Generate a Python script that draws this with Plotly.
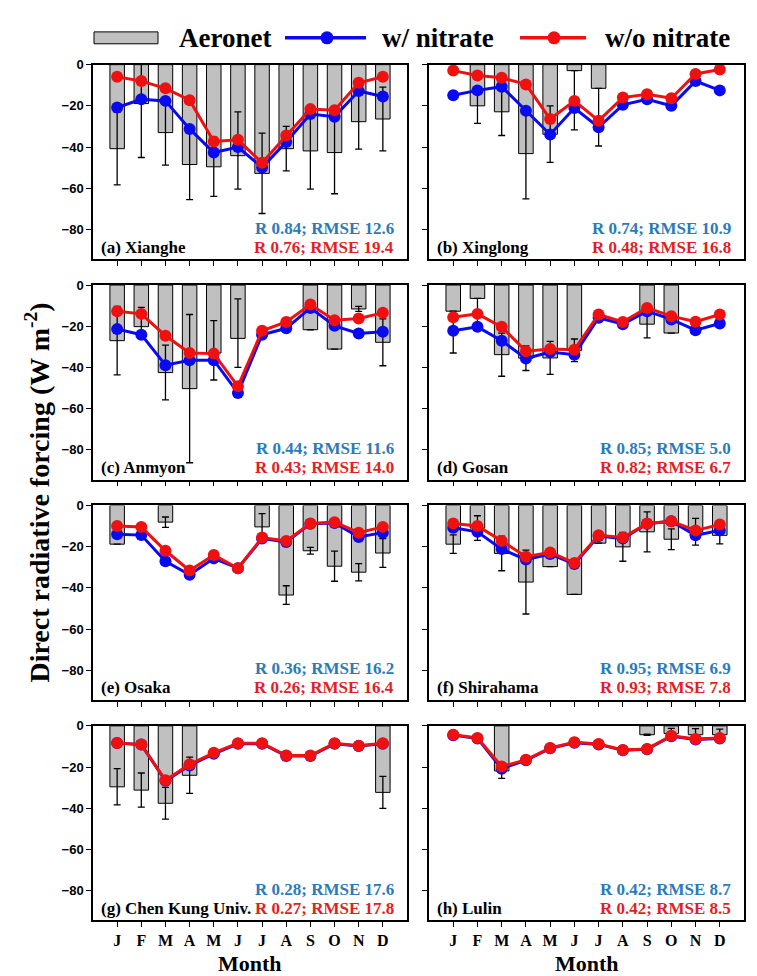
import plotly.graph_objects as go

# ---------------- data ----------------
months = ["J", "F", "M", "A", "M", "J", "J", "A", "S", "O", "N", "D"]
month_num = list(range(1, 13))
y_ticks = [0, -20, -40, -60, -80]

site_labels = ["(a) Xianghe", "(b) Xinglong", "(c) Anmyon", "(d) Gosan",
               "(e) Osaka", "(f) Shirahama", "(g) Chen Kung Univ.", "(h) Lulin"]
stats_with = ["R 0.84; RMSE 12.6", "R 0.74; RMSE 10.9", "R 0.44; RMSE 11.6", "R 0.85; RMSE 5.0",
              "R 0.36; RMSE 16.2", "R 0.95; RMSE 6.9", "R 0.28; RMSE 17.6", "R 0.42; RMSE 8.7"]
stats_without = ["R 0.76; RMSE 19.4", "R 0.48; RMSE 16.8", "R 0.43; RMSE 14.0", "R 0.82; RMSE 6.7",
                 "R 0.26; RMSE 16.4", "R 0.93; RMSE 7.8", "R 0.27; RMSE 17.8", "R 0.42; RMSE 8.5"]

# (a) Xianghe
aer_a = [-40.8, -18.9, -33.0, -48.5, -49.6, -44.2, -52.8, -40.8, -41.9, -42.7, -27.7, -26.4]
up_a = [17.6, 26.2, 15.8, 17.1, 14.4, 21.3, 19.5, 10.8, 18.6, 20.0, 13.3, 15.5]
dn_a = [17.6, 26.2, 15.8, 17.1, 14.4, 16.3, 19.5, 10.8, 18.6, 20.0, 13.3, 15.5]
with_a = [-20.8, -16.8, -17.6, -31.2, -42.7, -40.0, -49.9, -37.6, -24.0, -25.3, -12.8, -15.5]
wo_a = [-5.9, -8.0, -11.5, -17.3, -37.3, -36.5, -47.7, -34.4, -21.6, -22.1, -8.8, -5.9]

# (b) Xinglong
aer_b = [None, -20.0, -22.9, -43.2, -33.8, -2.9, -11.5, None, None, None, None, None]
up_b = [None, 8.5, 11.5, 22.0, 13.8, 0.0, 0.0, None, None, None, None, None]
dn_b = [None, 8.5, 11.5, 22.0, 13.7, 28.8, 28.0, None, None, None, None, None]
with_b = [-14.9, -12.5, -10.7, -22.4, -33.9, -21.1, -30.4, -19.5, -16.8, -20.0, -8.0, -12.5]
wo_b = [-2.9, -5.3, -6.4, -9.6, -26.4, -17.6, -27.2, -16.0, -14.4, -16.3, -4.5, -2.4]

# (c) Anmyon
aer_c = [-27.0, -20.2, -42.5, -50.3, -33.0, -25.9, None, None, -21.7, -31.1, -11.6, -27.8]
up_c = [16.6, 9.4, 13.3, 36.0, 15.7, 19.2, None, None, None, None, 1.2, 11.4]
dn_c = [16.6, 4.4, 13.3, 36.0, 13.1, 14.1, None, None, None, None, 1.2, 11.4]
with_c = [-21.4, -24.1, -38.9, -36.5, -36.5, -52.4, -24.1, -21.0, -11.1, -19.8, -23.5, -22.7]
wo_c = [-12.7, -14.0, -24.6, -33.0, -33.3, -49.2, -22.2, -17.9, -9.5, -17.1, -16.2, -13.5]

# (d) Gosan
aer_d = [-12.7, -6.5, -33.8, -35.5, -35.4, -31.7, None, None, -19.0, -23.3, None, None]
up_d = [0.0, 0.0, 10.5, 6.0, 8.0, 5.5, None, None, 6.7, None, None, None]
dn_d = [20.3, 15.0, 10.5, 6.0, 8.0, 5.5, None, None, 6.7, None, None, None]
with_d = [-22.2, -20.3, -27.0, -35.7, -32.5, -33.8, -15.9, -19.0, -12.7, -16.7, -21.9, -18.7]
wo_d = [-15.6, -14.0, -20.3, -32.1, -31.0, -31.4, -14.3, -17.9, -11.1, -15.1, -17.8, -14.3]

# (e) Osaka
aer_e = [-18.8, None, -8.1, None, None, None, -10.4, -43.5, -22.0, -29.5, -32.4, -23.1]
up_e = [None, None, 2.5, None, None, None, 6.4, 4.5, 1.6, 7.3, 4.2, 7.0]
dn_e = [None, None, 2.5, None, None, None, 6.3, 4.5, 1.6, 7.3, 4.2, 7.0]
with_e = [-14.0, -14.4, -27.1, -33.7, -25.7, -30.5, -16.1, -17.7, -8.9, -8.5, -15.3, -13.2]
wo_e = [-10.0, -10.5, -22.0, -31.6, -24.1, -30.5, -15.6, -17.2, -8.8, -8.1, -13.2, -10.4]

# (f) Shirahama
aer_f = [-18.8, -11.0, -23.3, -37.2, -29.7, -43.2, -18.3, -20.1, -12.8, -16.4, -12.8, -14.5]
up_f = [4.5, 6.0, 8.4, 15.5, None, None, None, 7.0, 9.7, 5.0, 6.5, 4.2]
dn_f = [4.5, 6.0, 8.4, 15.5, None, None, None, 7.0, 9.7, 5.0, 6.5, 4.2]
with_f = [-10.8, -12.8, -21.2, -26.3, -23.6, -28.4, -14.8, -16.1, -8.9, -7.7, -14.5, -12.1]
wo_f = [-8.8, -10.0, -17.2, -24.9, -22.8, -27.9, -14.5, -15.6, -8.8, -7.7, -12.1, -9.3]

# (g) Chen Kung Univ.
aer_g = [-29.6, -31.2, -37.6, -24.0, None, None, None, None, None, None, None, -32.3]
up_g = [8.8, 8.3, 7.7, 8.8, None, None, None, None, None, None, None, 7.8]
dn_g = [8.8, 8.3, 7.7, 8.8, None, None, None, None, None, None, None, 7.8]
with_g = [-8.3, -9.1, -26.7, -19.2, -13.6, -8.7, -8.7, -14.6, -14.6, -8.7, -9.8, -8.7]
wo_g = [-8.3, -9.1, -26.4, -18.7, -13.1, -8.5, -8.5, -14.4, -14.4, -8.5, -9.6, -8.5]

# (h) Lulin
aer_h = [None, None, -21.9, None, None, None, None, None, -4.3, -3.7, -4.3, -4.3]
up_h = [None, None, 3.6, None, None, None, None, None, 0.3, 2.5, 3.0, 2.7]
dn_h = [None, None, 3.6, None, None, None, None, None, 0.3, 2.5, 3.0, 2.7]
with_h = [-4.5, -6.1, -20.8, -16.7, -10.9, -8.2, -9.0, -11.9, -11.4, -5.0, -6.6, -6.1]
wo_h = [-4.3, -5.9, -19.7, -16.5, -10.7, -8.0, -8.8, -11.7, -11.2, -4.8, -6.4, -5.9]

panels = [
    (aer_a, up_a, dn_a, with_a, wo_a),
    (aer_b, up_b, dn_b, with_b, wo_b),
    (aer_c, up_c, dn_c, with_c, wo_c),
    (aer_d, up_d, dn_d, with_d, wo_d),
    (aer_e, up_e, dn_e, with_e, wo_e),
    (aer_f, up_f, dn_f, with_f, wo_f),
    (aer_g, up_g, dn_g, with_g, wo_g),
    (aer_h, up_h, dn_h, with_h, wo_h),
]

# ---------------- styling ----------------
W, H = 757, 976
SERIF = "Liberation Serif, Times New Roman, serif"
SANS = "Liberation Sans, Arial, sans-serif"
BAR_COLOR = "#C0C0C0"
BLUE = "#0A0AF0"
RED = "#F01010"
STAT_BLUE = "#2B7BBA"
STAT_RED = "#E31E24"

def px_x(p):
    return p / W

def px_y(p):
    return 1 - p / H

col_px = [(85, 399), (421, 736)]
row_px = [(50, 246), (272, 468), (494, 690), (716, 912)]
xdom = [[px_x(a), px_x(b)] for a, b in col_px]
ydom = [[px_y(b), px_y(a)] for a, b in row_px]

fig = go.Figure()
layout = {}
annotations = []

for i, (aer, up, dn, w_n, wo_n) in enumerate(panels):
    r, c = divmod(i, 2)
    n = i + 1
    xa = "x" if n == 1 else f"x{n}"
    ya = "y" if n == 1 else f"y{n}"

    fig.add_trace(go.Bar(
        x=month_num, y=aer, width=0.6, xaxis=xa, yaxis=ya,
        marker=dict(color=BAR_COLOR, line=dict(color="black", width=1)),
        error_y=dict(type="data", symmetric=False, array=up, arrayminus=dn,
                     color="black", thickness=1.3, width=3.5),
        showlegend=False, name="Aeronet"))
    fig.add_trace(go.Scatter(
        x=month_num, y=w_n, mode="lines+markers", xaxis=xa, yaxis=ya,
        line=dict(color=BLUE, width=3), marker=dict(color=BLUE, size=12),
        showlegend=False, name="w/ nitrate"))
    fig.add_trace(go.Scatter(
        x=month_num, y=wo_n, mode="lines+markers", xaxis=xa, yaxis=ya,
        line=dict(color=RED, width=3), marker=dict(color=RED, size=12),
        showlegend=False, name="w/o nitrate"))

    xkey = "xaxis" if n == 1 else f"xaxis{n}"
    ykey = "yaxis" if n == 1 else f"yaxis{n}"
    layout[xkey] = dict(
        domain=xdom[c], anchor=ya, range=[0, 13],
        tickmode="array", tickvals=month_num, ticktext=months,
        showticklabels=(r == 3), ticks="outside", ticklen=5, tickwidth=1,
        tickcolor="black", showline=True, linecolor="black", linewidth=1.5,
        mirror=True, showgrid=False, zeroline=False,
        tickfont=dict(family=SERIF, size=16, color="black", weight="bold"))
    layout[ykey] = dict(
        domain=ydom[r], anchor=xa, range=[-94.5, 0],
        tickmode="array", tickvals=y_ticks,
        showticklabels=(c == 0), ticks="outside", ticklen=5, tickwidth=1,
        tickcolor="black", showline=True, linecolor="black", linewidth=1.5,
        mirror=True, showgrid=False, zeroline=False,
        tickfont=dict(family=SANS, size=13, color="black", weight="bold"))

    annotations.append(dict(
        xref=f"{xa} domain", yref=f"{ya} domain", x=0.018, y=0.062,
        xanchor="left", yanchor="middle", text=site_labels[i], showarrow=False,
        font=dict(family=SERIF, size=17, color="black", weight="bold")))
    annotations.append(dict(
        xref=f"{xa} domain", yref=f"{ya} domain", x=0.965, y=0.16,
        xanchor="right", yanchor="middle", text=stats_with[i], showarrow=False,
        font=dict(family=SERIF, size=17, color=STAT_BLUE, weight="bold")))
    annotations.append(dict(
        xref=f"{xa} domain", yref=f"{ya} domain", x=0.965, y=0.062,
        xanchor="right", yanchor="middle", text=stats_without[i], showarrow=False,
        font=dict(family=SERIF, size=17, color=STAT_RED, weight="bold")))

# axis titles
annotations.append(dict(
    xref="paper", yref="paper", x=px_x(30), y=px_y(481), textangle=-90,
    xanchor="center", yanchor="middle", showarrow=False,
    text="Direct radiative forcing (W m<sup>-2</sup>)",
    font=dict(family=SERIF, size=28, color="black", weight="bold")))
for c in range(2):
    cx = (col_px[c][0] + col_px[c][1]) / 2
    annotations.append(dict(
        xref="paper", yref="paper", x=px_x(cx), y=px_y(955),
        xanchor="center", yanchor="middle", showarrow=False, text="Month",
        font=dict(family=SERIF, size=22, color="black", weight="bold")))

# manual legend
LEG_Y = 23
shapes = [
    dict(type="rect", xref="paper", yref="paper",
         x0=px_x(86), x1=px_x(150), y0=px_y(LEG_Y + 6), y1=px_y(LEG_Y - 6),
         fillcolor=BAR_COLOR, line=dict(color="black", width=1)),
    dict(type="line", xref="paper", yref="paper",
         x0=px_x(277), x1=px_x(358), y0=px_y(LEG_Y), y1=px_y(LEG_Y),
         line=dict(color=BLUE, width=3.5)),
    dict(type="line", xref="paper", yref="paper",
         x0=px_x(512), x1=px_x(578), y0=px_y(LEG_Y), y1=px_y(LEG_Y),
         line=dict(color=RED, width=3.5)),
]
for cx, col in [(319, BLUE), (546, RED)]:
    shapes.append(dict(type="circle", xref="paper", yref="paper",
                       xsizemode="pixel", ysizemode="pixel",
                       xanchor=px_x(cx), yanchor=px_y(LEG_Y),
                       x0=-6.5, x1=6.5, y0=-6.5, y1=6.5,
                       fillcolor=col, line=dict(color=col, width=0)))
for lx, txt in [(169, "Aeronet"), (372, "w/ nitrate"), (595, "w/o nitrate")]:
    annotations.append(dict(
        xref="paper", yref="paper", x=px_x(lx), y=px_y(LEG_Y),
        xanchor="left", yanchor="middle", showarrow=False, text=txt,
        font=dict(family=SERIF, size=27, color="black", weight="bold")))

fig.update_layout(
    width=W, height=H, margin=dict(l=0, r=0, t=0, b=0),
    paper_bgcolor="white", plot_bgcolor="white",
    barmode="overlay", showlegend=False,
    annotations=annotations, shapes=shapes, **layout)

fig.write_html("out.html")
